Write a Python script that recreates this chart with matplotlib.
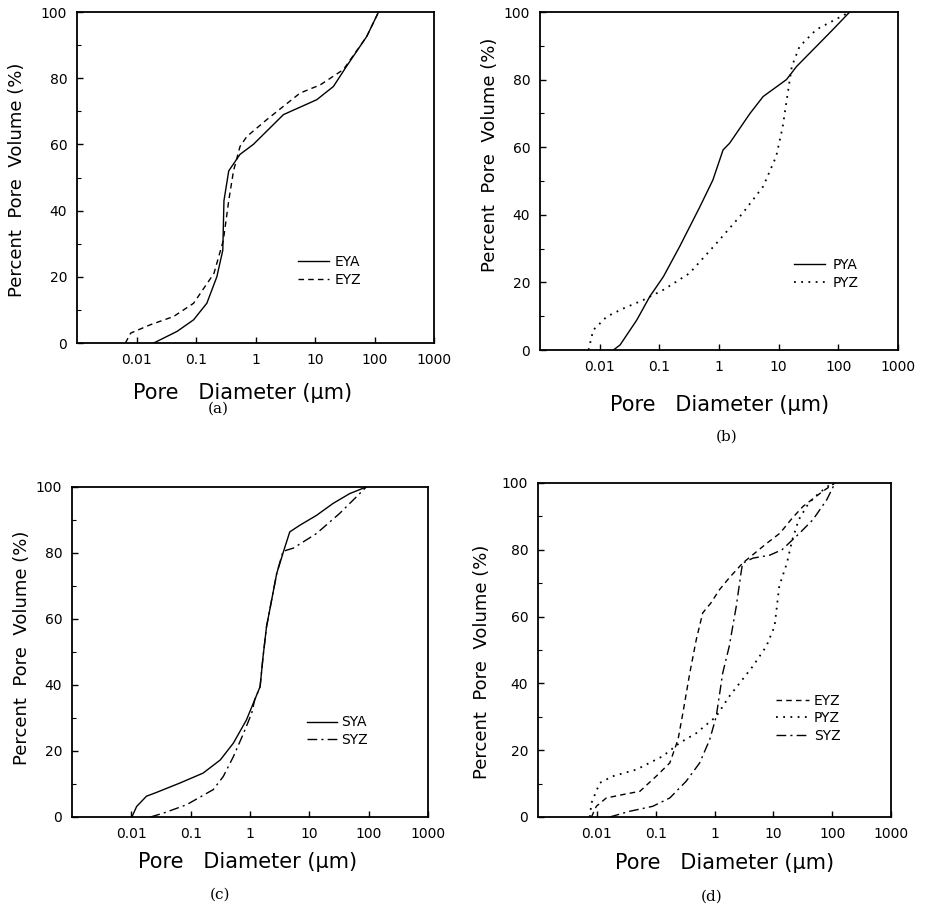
import matplotlib
matplotlib.use("Agg")
import matplotlib.pyplot as plt
from matplotlib.ticker import FixedLocator, NullFormatter

# ---------------- data (pore diameter in um, cumulative % pore volume) ----------------
eya_x = [0.0195, 0.048, 0.091, 0.152, 0.224, 0.282, 0.295, 0.355, 0.55, 0.92, 2.95, 10.7, 20.4, 33.9, 74, 117]
eya_y = [0, 3.5, 7, 12, 20, 28, 43, 52, 57, 60, 69, 73.5, 77.5, 83.6, 92.6, 100]
eyz_x = [0.0065, 0.008, 0.017, 0.042, 0.091, 0.2, 0.288, 0.355, 0.427, 0.55, 0.716, 1.55, 5.6, 12.3, 30, 74, 117]
eyz_y = [0, 3, 5.5, 8, 12, 21, 31, 43, 52, 59.4, 62.4, 67.5, 75.5, 78, 82.6, 92.6, 100]

pya_x = [0.017, 0.022, 0.042, 0.069, 0.117, 0.219, 0.479, 0.79, 1.17, 1.51, 3.31, 5.5, 13.5, 20, 42.7, 81, 155]
pya_y = [0, 1.5, 8.9, 15.8, 21.7, 30.6, 42.4, 50.3, 59.2, 61.2, 70, 75, 80, 83.9, 89.8, 94.8, 100]
pyz_x = [0.0065, 0.0078, 0.0132, 0.025, 0.054, 0.117, 0.32, 0.91, 2.5, 5.5, 9.1, 11.7, 14.5, 16.6, 22.4, 42.7, 155]
pyz_y = [0, 5.9, 9.9, 12.3, 14.8, 17.8, 22.7, 31.6, 40.5, 48.4, 57.3, 66.1, 77, 83.9, 89.8, 94.8, 100]

sya_x = [0.0102, 0.0123, 0.018, 0.027, 0.066, 0.162, 0.316, 0.525, 0.87, 1.2, 1.48, 1.66, 1.9, 2.82, 3.89, 4.68, 6.9, 13.2, 25, 47.9, 91]
sya_y = [0, 3.2, 6.3, 7.5, 10.3, 13.3, 17.3, 22.4, 29.4, 35.5, 39.5, 48.6, 57.7, 73.8, 81.9, 86.4, 88.4, 91.4, 95, 98, 100]
syz_x = [0.021, 0.035, 0.085, 0.24, 0.355, 0.525, 0.78, 1.07, 1.2, 1.48, 1.66, 1.9, 2.82, 3.6, 5.4, 13.2, 32, 62, 91]
syz_y = [0, 1.2, 3.7, 8.3, 12.3, 18.3, 25.4, 31.5, 35.5, 39.5, 48.6, 57.7, 73.8, 80.5, 81.5, 85.9, 91.9, 97, 100]

d_eyz_x = [0.0081, 0.0098, 0.0145, 0.0275, 0.054, 0.102, 0.174, 0.24, 0.29, 0.38, 0.49, 0.63, 0.87, 1.22, 1.78, 3.0, 7.8, 13, 21, 32, 69, 112]
d_eyz_y = [0, 3.2, 5.7, 6.7, 7.7, 12.2, 16.2, 23.2, 31.1, 43.1, 53.1, 61.1, 64.1, 68.1, 71.6, 76, 82, 85, 89.5, 93, 97.5, 100]
d_pyz_x = [0.0076, 0.0081, 0.0112, 0.0186, 0.047, 0.132, 0.257, 0.49, 1.07, 1.78, 4.47, 7.6, 10.5, 12.6, 17, 21, 27, 40, 60, 100]
d_pyz_y = [0, 4.2, 10.2, 12.2, 14.2, 18.2, 22.2, 25.1, 30.1, 36.1, 45.1, 51.1, 57.1, 69.1, 76, 83, 89, 94, 97, 100]
d_syz_x = [0.0166, 0.036, 0.089, 0.174, 0.33, 0.56, 0.83, 1.07, 1.38, 1.78, 2.34, 2.82, 3.0, 4.5, 8.7, 14, 28, 47, 81, 112]
d_syz_y = [0, 1.7, 3.2, 5.7, 10.7, 16.2, 23.2, 30.1, 43.1, 51.1, 63, 73, 76, 77.5, 78.4, 80, 85, 89, 95, 100]

x_ticks = [0.01, 0.1, 1, 10, 100, 1000]
x_tick_labels = ["0.01", "0.1", "1", "10", "100", "1000"]
y_ticks = [0, 20, 40, 60, 80, 100]
y_minor = [10, 30, 50, 70, 90]

# ---------------- figure ----------------
plt.rcParams["font.family"] = ["DejaVu Sans"]
fig = plt.figure(figsize=(9.26, 9.18), dpi=100)
W, H = 926.0, 918.0


def make_axes(left, right, top, bottom):
    return fig.add_axes([left / W, 1 - bottom / H, (right - left) / W, (bottom - top) / H])


def style(ax):
    ax.set_xscale("log")
    ax.set_xlim(1e-3, 1e3)
    ax.set_ylim(0, 100)
    ax.xaxis.set_major_locator(FixedLocator(x_ticks))
    ax.set_xticklabels(x_tick_labels)
    ax.xaxis.set_minor_locator(FixedLocator([]))
    ax.xaxis.set_minor_formatter(NullFormatter())
    ax.yaxis.set_major_locator(FixedLocator(y_ticks))
    ax.yaxis.set_minor_locator(FixedLocator(y_minor))
    ax.tick_params(axis="both", which="major", direction="in", length=4, width=1.0,
                   labelsize=10, pad=7)
    ax.tick_params(axis="y", which="minor", direction="in", length=3, width=0.8)
    for s in ax.spines.values():
        s.set_linewidth(1.3)
        s.set_color("black")


lw = 1.0
dash = (0, (4, 3))
dot = (0, (1, 3))
dashdot = (0, (7, 3, 1.5, 3))

# (a)
ax_a = make_axes(77, 434, 12, 343)
style(ax_a)
ax_a.plot(eya_x, eya_y, color="black", lw=lw, ls="-", label="EYA")
ax_a.plot(eyz_x, eyz_y, color="black", lw=lw, ls=dash, label="EYZ")
ax_a.legend(loc="center left", bbox_to_anchor=(0.6, 0.2175), frameon=False, fontsize=10,
            handlelength=2.2, handletextpad=0.4, labelspacing=0.25, borderpad=0)

# (b)
ax_b = make_axes(540, 898, 12, 350)
style(ax_b)
ax_b.plot(pya_x, pya_y, color="black", lw=lw, ls="-", label="PYA")
ax_b.plot(pyz_x, pyz_y, color="black", lw=1.3, ls=dot, label="PYZ")
ax_b.legend(loc="center left", bbox_to_anchor=(0.69, 0.225), frameon=False, fontsize=10,
            handlelength=2.2, handletextpad=0.6, labelspacing=0.25, borderpad=0)

# (c)
ax_c = make_axes(72, 428, 487, 817)
style(ax_c)
ax_c.plot(sya_x, sya_y, color="black", lw=lw, ls="-", label="SYA")
ax_c.plot(syz_x, syz_y, color="black", lw=lw, ls=dashdot, label="SYZ")
ax_c.legend(loc="center left", bbox_to_anchor=(0.64, 0.26), frameon=False, fontsize=10,
            handlelength=2.2, handletextpad=0.3, labelspacing=0.25, borderpad=0)

# (d)
ax_d = make_axes(538, 891, 483, 817)
style(ax_d)
ax_d.plot(d_eyz_x, d_eyz_y, color="black", lw=lw, ls=dash, label="EYZ")
ax_d.plot(d_pyz_x, d_pyz_y, color="black", lw=1.3, ls=dot, label="PYZ")
ax_d.plot(d_syz_x, d_syz_y, color="black", lw=lw, ls=dashdot, label="SYZ")
ax_d.legend(loc="center left", bbox_to_anchor=(0.655, 0.296), frameon=False, fontsize=10,
            handlelength=2.4, handletextpad=0.3, labelspacing=0.25, borderpad=0)

# axis titles (placed in figure pixels)
xlab = "Pore   Diameter (μm)"
ylab = "Percent  Pore  Volume (%)"
for (xc, yc) in [(243, 393), (720, 405), (248, 862), (725, 863)]:
    fig.text(xc / W, 1 - yc / H, xlab, ha="center", va="center", fontsize=15)
for (xc, yc) in [(17, 180), (490, 155), (22, 648), (482, 662)]:
    fig.text(xc / W, 1 - yc / H, ylab, ha="center", va="center", fontsize=13, rotation=90)

for (xc, yc, t) in [(218, 409, "(a)"), (727, 437, "(b)"), (220, 895, "(c)"), (712, 897, "(d)")]:
    fig.text(xc / W, 1 - yc / H, t, ha="center", va="center", fontsize=11,
             family=["DejaVu Serif"])

fig.savefig("out.png", dpi=100, facecolor="white")
